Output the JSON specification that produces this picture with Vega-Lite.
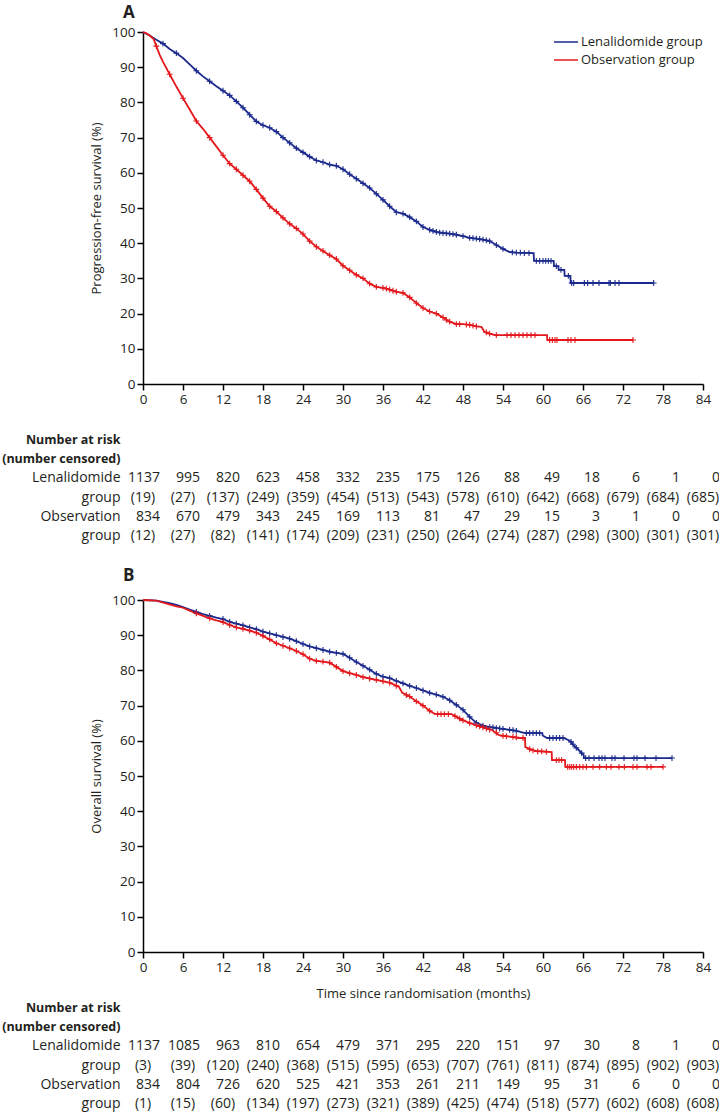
{
"$schema": "https://vega.github.io/schema/vega-lite/v6.json",
"background": "white",
"padding": {"left": 1, "top": 4, "right": 5, "bottom": 0},
"config": {
 "font": "Open Sans",
 "view": {"stroke": null},
 "axis": {"grid": false, "domainColor": "#000000", "domainWidth": 1.5, "tickColor": "#000000", "tickWidth": 1.5, "tickSize": 6, "labelColor": "#231f20", "labelFont": "Open Sans", "labelFontSize": 13.5, "titleFont": "Open Sans", "titleFontSize": 13, "titleFontWeight": "normal", "titleColor": "#231f20", "labelPadding": 2, "labelFlush": false},
 "text": {"font": "Open Sans", "fontSize": 14, "color": "#231f20"}
},
"datasets": {
 "curves": [
  {"panel":"A","group":"Lenalidomide group","month":0,"surv":100},{"panel":"A","group":"Lenalidomide group","month":1,"surv":99},{"panel":"A","group":"Lenalidomide group","month":2,"surv":97.8},{"panel":"A","group":"Lenalidomide group","month":3,"surv":96.7},{"panel":"A","group":"Lenalidomide group","month":4,"surv":95.2},{"panel":"A","group":"Lenalidomide group","month":5,"surv":94},{"panel":"A","group":"Lenalidomide group","month":6,"surv":92.6},{"panel":"A","group":"Lenalidomide group","month":7,"surv":90.8},{"panel":"A","group":"Lenalidomide group","month":8,"surv":89},{"panel":"A","group":"Lenalidomide group","month":9,"surv":87.4},{"panel":"A","group":"Lenalidomide group","month":10,"surv":86},{"panel":"A","group":"Lenalidomide group","month":11,"surv":84.6},{"panel":"A","group":"Lenalidomide group","month":12,"surv":83.3},{"panel":"A","group":"Lenalidomide group","month":13,"surv":82},{"panel":"A","group":"Lenalidomide group","month":14,"surv":80.3},{"panel":"A","group":"Lenalidomide group","month":15,"surv":78.5},{"panel":"A","group":"Lenalidomide group","month":16,"surv":76.5},{"panel":"A","group":"Lenalidomide group","month":17,"surv":74.6},{"panel":"A","group":"Lenalidomide group","month":18,"surv":73.5},{"panel":"A","group":"Lenalidomide group","month":19,"surv":72.8},{"panel":"A","group":"Lenalidomide group","month":20,"surv":71.7},{"panel":"A","group":"Lenalidomide group","month":21,"surv":70},{"panel":"A","group":"Lenalidomide group","month":22,"surv":68.5},{"panel":"A","group":"Lenalidomide group","month":23,"surv":67},{"panel":"A","group":"Lenalidomide group","month":24,"surv":65.8},{"panel":"A","group":"Lenalidomide group","month":25,"surv":64.6},{"panel":"A","group":"Lenalidomide group","month":26,"surv":63.5},{"panel":"A","group":"Lenalidomide group","month":27,"surv":63},{"panel":"A","group":"Lenalidomide group","month":28,"surv":62.3},{"panel":"A","group":"Lenalidomide group","month":29,"surv":62},{"panel":"A","group":"Lenalidomide group","month":30,"surv":61},{"panel":"A","group":"Lenalidomide group","month":31,"surv":59.6},{"panel":"A","group":"Lenalidomide group","month":32,"surv":58.3},{"panel":"A","group":"Lenalidomide group","month":33,"surv":57},{"panel":"A","group":"Lenalidomide group","month":34,"surv":55.7},{"panel":"A","group":"Lenalidomide group","month":35,"surv":54},{"panel":"A","group":"Lenalidomide group","month":36,"surv":52.3},{"panel":"A","group":"Lenalidomide group","month":37,"surv":50.5},{"panel":"A","group":"Lenalidomide group","month":38,"surv":48.8},{"panel":"A","group":"Lenalidomide group","month":39,"surv":48.4},{"panel":"A","group":"Lenalidomide group","month":40,"surv":47.4},{"panel":"A","group":"Lenalidomide group","month":41,"surv":46.2},{"panel":"A","group":"Lenalidomide group","month":42,"surv":44.6},{"panel":"A","group":"Lenalidomide group","month":43,"surv":43.8},{"panel":"A","group":"Lenalidomide group","month":44,"surv":43.2},{"panel":"A","group":"Lenalidomide group","month":45,"surv":42.9},{"panel":"A","group":"Lenalidomide group","month":46,"surv":42.7},{"panel":"A","group":"Lenalidomide group","month":47,"surv":42.4},{"panel":"A","group":"Lenalidomide group","month":48,"surv":42},{"panel":"A","group":"Lenalidomide group","month":49,"surv":41.5},{"panel":"A","group":"Lenalidomide group","month":50,"surv":41.3},{"panel":"A","group":"Lenalidomide group","month":51,"surv":41},{"panel":"A","group":"Lenalidomide group","month":52,"surv":40.6},{"panel":"A","group":"Lenalidomide group","month":53,"surv":39.5},{"panel":"A","group":"Lenalidomide group","month":54,"surv":38.4},{"panel":"A","group":"Lenalidomide group","month":55,"surv":37.5},{"panel":"A","group":"Lenalidomide group","month":56,"surv":37.3},{"panel":"A","group":"Lenalidomide group","month":58.6,"surv":37.2},{"panel":"A","group":"Lenalidomide group","month":58.65,"surv":35},{"panel":"A","group":"Lenalidomide group","month":61.6,"surv":35},{"panel":"A","group":"Lenalidomide group","month":61.65,"surv":33.5},{"panel":"A","group":"Lenalidomide group","month":62.3,"surv":33.5},{"panel":"A","group":"Lenalidomide group","month":62.35,"surv":32.4},{"panel":"A","group":"Lenalidomide group","month":63.2,"surv":32.4},{"panel":"A","group":"Lenalidomide group","month":63.25,"surv":30.7},{"panel":"A","group":"Lenalidomide group","month":64.1,"surv":30.7},{"panel":"A","group":"Lenalidomide group","month":64.15,"surv":28.7},{"panel":"A","group":"Lenalidomide group","month":76.6,"surv":28.7},
  {"panel":"A","group":"Observation group","month":0,"surv":100},{"panel":"A","group":"Observation group","month":0.5,"surv":99.6},{"panel":"A","group":"Observation group","month":1,"surv":99},{"panel":"A","group":"Observation group","month":1.6,"surv":98},{"panel":"A","group":"Observation group","month":2,"surv":96},{"panel":"A","group":"Observation group","month":2.5,"surv":93.5},{"panel":"A","group":"Observation group","month":3,"surv":91.5},{"panel":"A","group":"Observation group","month":4,"surv":88},{"panel":"A","group":"Observation group","month":5,"surv":84.5},{"panel":"A","group":"Observation group","month":6,"surv":81.2},{"panel":"A","group":"Observation group","month":7,"surv":78},{"panel":"A","group":"Observation group","month":8,"surv":74.7},{"panel":"A","group":"Observation group","month":9,"surv":72.5},{"panel":"A","group":"Observation group","month":10,"surv":70},{"panel":"A","group":"Observation group","month":11,"surv":67.5},{"panel":"A","group":"Observation group","month":12,"surv":65},{"panel":"A","group":"Observation group","month":13,"surv":62.6},{"panel":"A","group":"Observation group","month":14,"surv":61},{"panel":"A","group":"Observation group","month":15,"surv":59.3},{"panel":"A","group":"Observation group","month":16,"surv":57.6},{"panel":"A","group":"Observation group","month":17,"surv":55.3},{"panel":"A","group":"Observation group","month":18,"surv":52.8},{"panel":"A","group":"Observation group","month":19,"surv":50.5},{"panel":"A","group":"Observation group","month":20,"surv":49},{"panel":"A","group":"Observation group","month":21,"surv":47.2},{"panel":"A","group":"Observation group","month":22,"surv":45.5},{"panel":"A","group":"Observation group","month":23,"surv":44.2},{"panel":"A","group":"Observation group","month":24,"surv":42.6},{"panel":"A","group":"Observation group","month":25,"surv":40.6},{"panel":"A","group":"Observation group","month":26,"surv":39},{"panel":"A","group":"Observation group","month":27,"surv":37.8},{"panel":"A","group":"Observation group","month":28,"surv":36.6},{"panel":"A","group":"Observation group","month":29,"surv":35.5},{"panel":"A","group":"Observation group","month":30,"surv":33.6},{"panel":"A","group":"Observation group","month":31,"surv":32.3},{"panel":"A","group":"Observation group","month":32,"surv":31},{"panel":"A","group":"Observation group","month":33,"surv":30},{"panel":"A","group":"Observation group","month":34,"surv":28.5},{"panel":"A","group":"Observation group","month":35,"surv":27.6},{"panel":"A","group":"Observation group","month":36,"surv":27.3},{"panel":"A","group":"Observation group","month":37,"surv":26.8},{"panel":"A","group":"Observation group","month":38,"surv":26.2},{"panel":"A","group":"Observation group","month":39,"surv":25.9},{"panel":"A","group":"Observation group","month":40,"surv":24.6},{"panel":"A","group":"Observation group","month":41,"surv":23},{"panel":"A","group":"Observation group","month":42,"surv":21.6},{"panel":"A","group":"Observation group","month":43,"surv":20.6},{"panel":"A","group":"Observation group","month":44,"surv":20},{"panel":"A","group":"Observation group","month":45,"surv":18.9},{"panel":"A","group":"Observation group","month":46,"surv":17.7},{"panel":"A","group":"Observation group","month":47,"surv":17},{"panel":"A","group":"Observation group","month":48,"surv":17},{"panel":"A","group":"Observation group","month":49,"surv":16.8},{"panel":"A","group":"Observation group","month":50,"surv":16.4},{"panel":"A","group":"Observation group","month":50.8,"surv":16.2},{"panel":"A","group":"Observation group","month":51.2,"surv":14.8},{"panel":"A","group":"Observation group","month":52,"surv":14.3},{"panel":"A","group":"Observation group","month":52.8,"surv":13.9},{"panel":"A","group":"Observation group","month":60.6,"surv":13.9},{"panel":"A","group":"Observation group","month":60.65,"surv":12.5},{"panel":"A","group":"Observation group","month":73.5,"surv":12.5},
  {"panel":"B","group":"Lenalidomide group","month":0,"surv":100},{"panel":"B","group":"Lenalidomide group","month":2,"surv":99.8},{"panel":"B","group":"Lenalidomide group","month":4,"surv":99.1},{"panel":"B","group":"Lenalidomide group","month":5,"surv":98.6},{"panel":"B","group":"Lenalidomide group","month":6,"surv":98},{"panel":"B","group":"Lenalidomide group","month":7,"surv":97.3},{"panel":"B","group":"Lenalidomide group","month":8,"surv":96.6},{"panel":"B","group":"Lenalidomide group","month":9,"surv":96},{"panel":"B","group":"Lenalidomide group","month":10,"surv":95.5},{"panel":"B","group":"Lenalidomide group","month":11,"surv":95},{"panel":"B","group":"Lenalidomide group","month":12,"surv":94.6},{"panel":"B","group":"Lenalidomide group","month":13,"surv":93.8},{"panel":"B","group":"Lenalidomide group","month":14,"surv":93.3},{"panel":"B","group":"Lenalidomide group","month":15,"surv":92.8},{"panel":"B","group":"Lenalidomide group","month":16,"surv":92.2},{"panel":"B","group":"Lenalidomide group","month":17,"surv":91.7},{"panel":"B","group":"Lenalidomide group","month":18,"surv":91},{"panel":"B","group":"Lenalidomide group","month":19,"surv":90.5},{"panel":"B","group":"Lenalidomide group","month":20,"surv":90},{"panel":"B","group":"Lenalidomide group","month":21,"surv":89.5},{"panel":"B","group":"Lenalidomide group","month":22,"surv":89},{"panel":"B","group":"Lenalidomide group","month":23,"surv":88.3},{"panel":"B","group":"Lenalidomide group","month":24,"surv":87.5},{"panel":"B","group":"Lenalidomide group","month":25,"surv":86.8},{"panel":"B","group":"Lenalidomide group","month":26,"surv":86.3},{"panel":"B","group":"Lenalidomide group","month":27,"surv":85.8},{"panel":"B","group":"Lenalidomide group","month":28,"surv":85.3},{"panel":"B","group":"Lenalidomide group","month":29,"surv":85},{"panel":"B","group":"Lenalidomide group","month":30,"surv":84.7},{"panel":"B","group":"Lenalidomide group","month":31,"surv":83.6},{"panel":"B","group":"Lenalidomide group","month":32,"surv":82.4},{"panel":"B","group":"Lenalidomide group","month":33,"surv":81.3},{"panel":"B","group":"Lenalidomide group","month":34,"surv":80.2},{"panel":"B","group":"Lenalidomide group","month":35,"surv":79},{"panel":"B","group":"Lenalidomide group","month":36,"surv":78.2},{"panel":"B","group":"Lenalidomide group","month":37,"surv":77.8},{"panel":"B","group":"Lenalidomide group","month":38,"surv":77},{"panel":"B","group":"Lenalidomide group","month":39,"surv":76.3},{"panel":"B","group":"Lenalidomide group","month":40,"surv":75.6},{"panel":"B","group":"Lenalidomide group","month":41,"surv":75},{"panel":"B","group":"Lenalidomide group","month":42,"surv":74.3},{"panel":"B","group":"Lenalidomide group","month":43,"surv":73.6},{"panel":"B","group":"Lenalidomide group","month":44,"surv":73.1},{"panel":"B","group":"Lenalidomide group","month":45,"surv":72.5},{"panel":"B","group":"Lenalidomide group","month":46,"surv":71.5},{"panel":"B","group":"Lenalidomide group","month":47,"surv":70.2},{"panel":"B","group":"Lenalidomide group","month":48,"surv":68.8},{"panel":"B","group":"Lenalidomide group","month":49,"surv":66.8},{"panel":"B","group":"Lenalidomide group","month":50,"surv":65.1},{"panel":"B","group":"Lenalidomide group","month":51,"surv":64.3},{"panel":"B","group":"Lenalidomide group","month":52,"surv":63.9},{"panel":"B","group":"Lenalidomide group","month":54,"surv":63.4},{"panel":"B","group":"Lenalidomide group","month":56,"surv":62.8},{"panel":"B","group":"Lenalidomide group","month":57.3,"surv":62.2},{"panel":"B","group":"Lenalidomide group","month":59.9,"surv":62.2},{"panel":"B","group":"Lenalidomide group","month":59.95,"surv":61.5},{"panel":"B","group":"Lenalidomide group","month":60.6,"surv":60.8},{"panel":"B","group":"Lenalidomide group","month":63.1,"surv":60.8},{"panel":"B","group":"Lenalidomide group","month":64,"surv":60},{"panel":"B","group":"Lenalidomide group","month":64.6,"surv":58.8},{"panel":"B","group":"Lenalidomide group","month":65.5,"surv":57.1},{"panel":"B","group":"Lenalidomide group","month":66.1,"surv":56},{"panel":"B","group":"Lenalidomide group","month":66.15,"surv":55.1},{"panel":"B","group":"Lenalidomide group","month":79.35,"surv":55.1},
  {"panel":"B","group":"Observation group","month":0,"surv":100},{"panel":"B","group":"Observation group","month":2,"surv":99.8},{"panel":"B","group":"Observation group","month":3.3,"surv":99.1},{"panel":"B","group":"Observation group","month":5,"surv":98.2},{"panel":"B","group":"Observation group","month":6,"surv":97.8},{"panel":"B","group":"Observation group","month":7,"surv":97},{"panel":"B","group":"Observation group","month":8,"surv":96.2},{"panel":"B","group":"Observation group","month":9,"surv":95.5},{"panel":"B","group":"Observation group","month":10,"surv":94.8},{"panel":"B","group":"Observation group","month":11,"surv":94.2},{"panel":"B","group":"Observation group","month":12,"surv":93.7},{"panel":"B","group":"Observation group","month":13,"surv":92.9},{"panel":"B","group":"Observation group","month":14,"surv":92.2},{"panel":"B","group":"Observation group","month":15,"surv":91.8},{"panel":"B","group":"Observation group","month":16,"surv":91.3},{"panel":"B","group":"Observation group","month":17,"surv":90.7},{"panel":"B","group":"Observation group","month":18,"surv":89.8},{"panel":"B","group":"Observation group","month":19,"surv":88.8},{"panel":"B","group":"Observation group","month":20,"surv":87.7},{"panel":"B","group":"Observation group","month":21,"surv":87},{"panel":"B","group":"Observation group","month":22,"surv":86.3},{"panel":"B","group":"Observation group","month":23,"surv":85.5},{"panel":"B","group":"Observation group","month":24,"surv":84.6},{"panel":"B","group":"Observation group","month":25,"surv":83.3},{"panel":"B","group":"Observation group","month":26,"surv":82.7},{"panel":"B","group":"Observation group","month":27,"surv":82.5},{"panel":"B","group":"Observation group","month":28,"surv":82.2},{"panel":"B","group":"Observation group","month":29,"surv":81},{"panel":"B","group":"Observation group","month":30,"surv":79.8},{"panel":"B","group":"Observation group","month":31,"surv":79.2},{"panel":"B","group":"Observation group","month":32,"surv":78.7},{"panel":"B","group":"Observation group","month":33,"surv":78.1},{"panel":"B","group":"Observation group","month":34,"surv":77.7},{"panel":"B","group":"Observation group","month":35,"surv":77.3},{"panel":"B","group":"Observation group","month":36,"surv":76.9},{"panel":"B","group":"Observation group","month":37,"surv":76.5},{"panel":"B","group":"Observation group","month":38.4,"surv":75.3},{"panel":"B","group":"Observation group","month":38.9,"surv":73.6},{"panel":"B","group":"Observation group","month":40,"surv":72.6},{"panel":"B","group":"Observation group","month":41,"surv":71.2},{"panel":"B","group":"Observation group","month":42,"surv":70},{"panel":"B","group":"Observation group","month":43,"surv":68.5},{"panel":"B","group":"Observation group","month":43.8,"surv":67.6},{"panel":"B","group":"Observation group","month":46.3,"surv":67.6},{"panel":"B","group":"Observation group","month":47,"surv":66.8},{"panel":"B","group":"Observation group","month":48.3,"surv":65.6},{"panel":"B","group":"Observation group","month":49.8,"surv":64.5},{"panel":"B","group":"Observation group","month":51,"surv":63.8},{"panel":"B","group":"Observation group","month":52.3,"surv":63.1},{"panel":"B","group":"Observation group","month":53.4,"surv":61.6},{"panel":"B","group":"Observation group","month":55,"surv":61.2},{"panel":"B","group":"Observation group","month":56.4,"surv":60.8},{"panel":"B","group":"Observation group","month":57.3,"surv":60.8},{"panel":"B","group":"Observation group","month":57.35,"surv":58.2},{"panel":"B","group":"Observation group","month":58.8,"surv":57.1},{"panel":"B","group":"Observation group","month":61.3,"surv":56.8},{"panel":"B","group":"Observation group","month":61.35,"surv":54.5},{"panel":"B","group":"Observation group","month":63.3,"surv":54.5},{"panel":"B","group":"Observation group","month":63.35,"surv":52.6},{"panel":"B","group":"Observation group","month":78,"surv":52.6}
 ],
 "censor": [
  {"panel":"A","group":"Lenalidomide group","month":3,"surv":96.7},{"panel":"A","group":"Lenalidomide group","month":5,"surv":94},{"panel":"A","group":"Lenalidomide group","month":8,"surv":89},{"panel":"A","group":"Lenalidomide group","month":10,"surv":86},{"panel":"A","group":"Lenalidomide group","month":12,"surv":83.3},{"panel":"A","group":"Lenalidomide group","month":13,"surv":82},{"panel":"A","group":"Lenalidomide group","month":14,"surv":80.3},{"panel":"A","group":"Lenalidomide group","month":15,"surv":78.5},{"panel":"A","group":"Lenalidomide group","month":16,"surv":76.5},{"panel":"A","group":"Lenalidomide group","month":17,"surv":74.6},{"panel":"A","group":"Lenalidomide group","month":18,"surv":73.5},{"panel":"A","group":"Lenalidomide group","month":19,"surv":72.8},{"panel":"A","group":"Lenalidomide group","month":20,"surv":71.7},{"panel":"A","group":"Lenalidomide group","month":21,"surv":70},{"panel":"A","group":"Lenalidomide group","month":22,"surv":68.5},{"panel":"A","group":"Lenalidomide group","month":23,"surv":67},{"panel":"A","group":"Lenalidomide group","month":24,"surv":65.8},{"panel":"A","group":"Lenalidomide group","month":25,"surv":64.6},{"panel":"A","group":"Lenalidomide group","month":26,"surv":63.5},{"panel":"A","group":"Lenalidomide group","month":27,"surv":63},{"panel":"A","group":"Lenalidomide group","month":28,"surv":62.3},{"panel":"A","group":"Lenalidomide group","month":29,"surv":62},{"panel":"A","group":"Lenalidomide group","month":30,"surv":61},{"panel":"A","group":"Lenalidomide group","month":31,"surv":59.6},{"panel":"A","group":"Lenalidomide group","month":32,"surv":58.3},{"panel":"A","group":"Lenalidomide group","month":33,"surv":57},{"panel":"A","group":"Lenalidomide group","month":34,"surv":55.7},{"panel":"A","group":"Lenalidomide group","month":35,"surv":54},{"panel":"A","group":"Lenalidomide group","month":36,"surv":52.3},{"panel":"A","group":"Lenalidomide group","month":37,"surv":50.5},{"panel":"A","group":"Lenalidomide group","month":38,"surv":48.8},{"panel":"A","group":"Lenalidomide group","month":39,"surv":48.4},{"panel":"A","group":"Lenalidomide group","month":40,"surv":47.4},{"panel":"A","group":"Lenalidomide group","month":41,"surv":46.2},{"panel":"A","group":"Lenalidomide group","month":42,"surv":44.6},{"panel":"A","group":"Lenalidomide group","month":43,"surv":43.8},{"panel":"A","group":"Lenalidomide group","month":43.5,"surv":43.5},{"panel":"A","group":"Lenalidomide group","month":44,"surv":43.2},{"panel":"A","group":"Lenalidomide group","month":44.5,"surv":43},{"panel":"A","group":"Lenalidomide group","month":45,"surv":42.9},{"panel":"A","group":"Lenalidomide group","month":45.5,"surv":42.8},{"panel":"A","group":"Lenalidomide group","month":46,"surv":42.7},{"panel":"A","group":"Lenalidomide group","month":46.5,"surv":42.6},{"panel":"A","group":"Lenalidomide group","month":47,"surv":42.4},{"panel":"A","group":"Lenalidomide group","month":48,"surv":42},{"panel":"A","group":"Lenalidomide group","month":49,"surv":41.5},{"panel":"A","group":"Lenalidomide group","month":49.5,"surv":41.4},{"panel":"A","group":"Lenalidomide group","month":50,"surv":41.3},{"panel":"A","group":"Lenalidomide group","month":50.5,"surv":41.2},{"panel":"A","group":"Lenalidomide group","month":51,"surv":41},{"panel":"A","group":"Lenalidomide group","month":51.5,"surv":40.8},{"panel":"A","group":"Lenalidomide group","month":52,"surv":40.6},{"panel":"A","group":"Lenalidomide group","month":53,"surv":39.5},{"panel":"A","group":"Lenalidomide group","month":54,"surv":38.4},{"panel":"A","group":"Lenalidomide group","month":55.4,"surv":37.4},{"panel":"A","group":"Lenalidomide group","month":56,"surv":37.3},{"panel":"A","group":"Lenalidomide group","month":56.6,"surv":37.3},{"panel":"A","group":"Lenalidomide group","month":57.2,"surv":37.2},{"panel":"A","group":"Lenalidomide group","month":57.9,"surv":37.2},{"panel":"A","group":"Lenalidomide group","month":59,"surv":35},{"panel":"A","group":"Lenalidomide group","month":59.5,"surv":35},{"panel":"A","group":"Lenalidomide group","month":60,"surv":35},{"panel":"A","group":"Lenalidomide group","month":60.4,"surv":35},{"panel":"A","group":"Lenalidomide group","month":60.8,"surv":35},{"panel":"A","group":"Lenalidomide group","month":61.2,"surv":35},{"panel":"A","group":"Lenalidomide group","month":62,"surv":33.5},{"panel":"A","group":"Lenalidomide group","month":62.7,"surv":32.4},{"panel":"A","group":"Lenalidomide group","month":63.8,"surv":30.7},{"panel":"A","group":"Lenalidomide group","month":64.3,"surv":28.7},{"panel":"A","group":"Lenalidomide group","month":64.6,"surv":28.7},{"panel":"A","group":"Lenalidomide group","month":66.2,"surv":28.7},{"panel":"A","group":"Lenalidomide group","month":66.7,"surv":28.7},{"panel":"A","group":"Lenalidomide group","month":67.5,"surv":28.7},{"panel":"A","group":"Lenalidomide group","month":68.4,"surv":28.7},{"panel":"A","group":"Lenalidomide group","month":69.9,"surv":28.7},{"panel":"A","group":"Lenalidomide group","month":70.1,"surv":28.7},{"panel":"A","group":"Lenalidomide group","month":70.8,"surv":28.7},{"panel":"A","group":"Lenalidomide group","month":71.4,"surv":28.7},{"panel":"A","group":"Lenalidomide group","month":76.6,"surv":28.7},
  {"panel":"A","group":"Observation group","month":2,"surv":96},{"panel":"A","group":"Observation group","month":4,"surv":88},{"panel":"A","group":"Observation group","month":6,"surv":81.2},{"panel":"A","group":"Observation group","month":8,"surv":74.7},{"panel":"A","group":"Observation group","month":10,"surv":70},{"panel":"A","group":"Observation group","month":12,"surv":65},{"panel":"A","group":"Observation group","month":13,"surv":62.6},{"panel":"A","group":"Observation group","month":14,"surv":61},{"panel":"A","group":"Observation group","month":15,"surv":59.3},{"panel":"A","group":"Observation group","month":16,"surv":57.6},{"panel":"A","group":"Observation group","month":17,"surv":55.3},{"panel":"A","group":"Observation group","month":18,"surv":52.8},{"panel":"A","group":"Observation group","month":19,"surv":50.5},{"panel":"A","group":"Observation group","month":20,"surv":49},{"panel":"A","group":"Observation group","month":21,"surv":47.2},{"panel":"A","group":"Observation group","month":22,"surv":45.5},{"panel":"A","group":"Observation group","month":23,"surv":44.2},{"panel":"A","group":"Observation group","month":24,"surv":42.6},{"panel":"A","group":"Observation group","month":25,"surv":40.6},{"panel":"A","group":"Observation group","month":26,"surv":39},{"panel":"A","group":"Observation group","month":27,"surv":37.8},{"panel":"A","group":"Observation group","month":28,"surv":36.6},{"panel":"A","group":"Observation group","month":29,"surv":35.5},{"panel":"A","group":"Observation group","month":30,"surv":33.6},{"panel":"A","group":"Observation group","month":31,"surv":32.3},{"panel":"A","group":"Observation group","month":32,"surv":31},{"panel":"A","group":"Observation group","month":33,"surv":30},{"panel":"A","group":"Observation group","month":34,"surv":28.5},{"panel":"A","group":"Observation group","month":35,"surv":27.6},{"panel":"A","group":"Observation group","month":36,"surv":27.3},{"panel":"A","group":"Observation group","month":36.5,"surv":27.1},{"panel":"A","group":"Observation group","month":37,"surv":26.8},{"panel":"A","group":"Observation group","month":37.5,"surv":26.5},{"panel":"A","group":"Observation group","month":38,"surv":26.2},{"panel":"A","group":"Observation group","month":39,"surv":25.9},{"panel":"A","group":"Observation group","month":40,"surv":24.6},{"panel":"A","group":"Observation group","month":41,"surv":23},{"panel":"A","group":"Observation group","month":42,"surv":21.6},{"panel":"A","group":"Observation group","month":43,"surv":20.6},{"panel":"A","group":"Observation group","month":44,"surv":20},{"panel":"A","group":"Observation group","month":45,"surv":18.9},{"panel":"A","group":"Observation group","month":45.5,"surv":18.2},{"panel":"A","group":"Observation group","month":46,"surv":17.7},{"panel":"A","group":"Observation group","month":47,"surv":17},{"panel":"A","group":"Observation group","month":47.5,"surv":17},{"panel":"A","group":"Observation group","month":48.5,"surv":16.9},{"panel":"A","group":"Observation group","month":49,"surv":16.8},{"panel":"A","group":"Observation group","month":49.5,"surv":16.6},{"panel":"A","group":"Observation group","month":50,"surv":16.4},{"panel":"A","group":"Observation group","month":51.5,"surv":14.7},{"panel":"A","group":"Observation group","month":52,"surv":14.3},{"panel":"A","group":"Observation group","month":53,"surv":13.9},{"panel":"A","group":"Observation group","month":54.6,"surv":13.9},{"panel":"A","group":"Observation group","month":55.2,"surv":13.9},{"panel":"A","group":"Observation group","month":55.8,"surv":13.9},{"panel":"A","group":"Observation group","month":56.4,"surv":13.9},{"panel":"A","group":"Observation group","month":57,"surv":13.9},{"panel":"A","group":"Observation group","month":57.6,"surv":13.9},{"panel":"A","group":"Observation group","month":58.2,"surv":13.9},{"panel":"A","group":"Observation group","month":58.8,"surv":13.9},{"panel":"A","group":"Observation group","month":61,"surv":12.5},{"panel":"A","group":"Observation group","month":61.4,"surv":12.5},{"panel":"A","group":"Observation group","month":61.8,"surv":12.5},{"panel":"A","group":"Observation group","month":62.1,"surv":12.5},{"panel":"A","group":"Observation group","month":63.75,"surv":12.5},{"panel":"A","group":"Observation group","month":64.2,"surv":12.5},{"panel":"A","group":"Observation group","month":64.8,"surv":12.5},{"panel":"A","group":"Observation group","month":73.5,"surv":12.5},
  {"panel":"B","group":"Lenalidomide group","month":8,"surv":96.6},{"panel":"B","group":"Lenalidomide group","month":10,"surv":95.5},{"panel":"B","group":"Lenalidomide group","month":12,"surv":94.6},{"panel":"B","group":"Lenalidomide group","month":13,"surv":93.8},{"panel":"B","group":"Lenalidomide group","month":14,"surv":93.3},{"panel":"B","group":"Lenalidomide group","month":15,"surv":92.8},{"panel":"B","group":"Lenalidomide group","month":16,"surv":92.2},{"panel":"B","group":"Lenalidomide group","month":17,"surv":91.7},{"panel":"B","group":"Lenalidomide group","month":18,"surv":91},{"panel":"B","group":"Lenalidomide group","month":19,"surv":90.5},{"panel":"B","group":"Lenalidomide group","month":20,"surv":90},{"panel":"B","group":"Lenalidomide group","month":21,"surv":89.5},{"panel":"B","group":"Lenalidomide group","month":22,"surv":89},{"panel":"B","group":"Lenalidomide group","month":23,"surv":88.3},{"panel":"B","group":"Lenalidomide group","month":24,"surv":87.5},{"panel":"B","group":"Lenalidomide group","month":25,"surv":86.8},{"panel":"B","group":"Lenalidomide group","month":26,"surv":86.3},{"panel":"B","group":"Lenalidomide group","month":27,"surv":85.8},{"panel":"B","group":"Lenalidomide group","month":28,"surv":85.3},{"panel":"B","group":"Lenalidomide group","month":29,"surv":85},{"panel":"B","group":"Lenalidomide group","month":30,"surv":84.7},{"panel":"B","group":"Lenalidomide group","month":31,"surv":83.6},{"panel":"B","group":"Lenalidomide group","month":32,"surv":82.4},{"panel":"B","group":"Lenalidomide group","month":33,"surv":81.3},{"panel":"B","group":"Lenalidomide group","month":34,"surv":80.2},{"panel":"B","group":"Lenalidomide group","month":35,"surv":79},{"panel":"B","group":"Lenalidomide group","month":36,"surv":78.2},{"panel":"B","group":"Lenalidomide group","month":37,"surv":77.8},{"panel":"B","group":"Lenalidomide group","month":38,"surv":77},{"panel":"B","group":"Lenalidomide group","month":39,"surv":76.3},{"panel":"B","group":"Lenalidomide group","month":40,"surv":75.6},{"panel":"B","group":"Lenalidomide group","month":41,"surv":75},{"panel":"B","group":"Lenalidomide group","month":42,"surv":74.3},{"panel":"B","group":"Lenalidomide group","month":43,"surv":73.6},{"panel":"B","group":"Lenalidomide group","month":44,"surv":73.1},{"panel":"B","group":"Lenalidomide group","month":45,"surv":72.5},{"panel":"B","group":"Lenalidomide group","month":46,"surv":71.5},{"panel":"B","group":"Lenalidomide group","month":47,"surv":70.2},{"panel":"B","group":"Lenalidomide group","month":48,"surv":68.8},{"panel":"B","group":"Lenalidomide group","month":49,"surv":66.8},{"panel":"B","group":"Lenalidomide group","month":50,"surv":65.1},{"panel":"B","group":"Lenalidomide group","month":51,"surv":64.3},{"panel":"B","group":"Lenalidomide group","month":52,"surv":63.9},{"panel":"B","group":"Lenalidomide group","month":52.5,"surv":63.8},{"panel":"B","group":"Lenalidomide group","month":53,"surv":63.6},{"panel":"B","group":"Lenalidomide group","month":53.5,"surv":63.5},{"panel":"B","group":"Lenalidomide group","month":54,"surv":63.4},{"panel":"B","group":"Lenalidomide group","month":55,"surv":63.1},{"panel":"B","group":"Lenalidomide group","month":55.5,"surv":63},{"panel":"B","group":"Lenalidomide group","month":56,"surv":62.8},{"panel":"B","group":"Lenalidomide group","month":57.5,"surv":62.2},{"panel":"B","group":"Lenalidomide group","month":58,"surv":62.2},{"panel":"B","group":"Lenalidomide group","month":58.5,"surv":62.2},{"panel":"B","group":"Lenalidomide group","month":59,"surv":62.2},{"panel":"B","group":"Lenalidomide group","month":59.5,"surv":62.2},{"panel":"B","group":"Lenalidomide group","month":61,"surv":60.8},{"panel":"B","group":"Lenalidomide group","month":61.5,"surv":60.8},{"panel":"B","group":"Lenalidomide group","month":62,"surv":60.8},{"panel":"B","group":"Lenalidomide group","month":62.5,"surv":60.8},{"panel":"B","group":"Lenalidomide group","month":63,"surv":60.8},{"panel":"B","group":"Lenalidomide group","month":64.2,"surv":59.7},{"panel":"B","group":"Lenalidomide group","month":64.5,"surv":59},{"panel":"B","group":"Lenalidomide group","month":65,"surv":58},{"panel":"B","group":"Lenalidomide group","month":65.8,"surv":56.5},{"panel":"B","group":"Lenalidomide group","month":66.4,"surv":55.1},{"panel":"B","group":"Lenalidomide group","month":66.9,"surv":55.1},{"panel":"B","group":"Lenalidomide group","month":67.65,"surv":55.1},{"panel":"B","group":"Lenalidomide group","month":68.4,"surv":55.1},{"panel":"B","group":"Lenalidomide group","month":68.85,"surv":55.1},{"panel":"B","group":"Lenalidomide group","month":69.3,"surv":55.1},{"panel":"B","group":"Lenalidomide group","month":70.35,"surv":55.1},{"panel":"B","group":"Lenalidomide group","month":70.8,"surv":55.1},{"panel":"B","group":"Lenalidomide group","month":72.15,"surv":55.1},{"panel":"B","group":"Lenalidomide group","month":73.65,"surv":55.1},{"panel":"B","group":"Lenalidomide group","month":74.1,"surv":55.1},{"panel":"B","group":"Lenalidomide group","month":75.3,"surv":55.1},{"panel":"B","group":"Lenalidomide group","month":76.95,"surv":55.1},{"panel":"B","group":"Lenalidomide group","month":79.35,"surv":55.1},
  {"panel":"B","group":"Observation group","month":8,"surv":96.2},{"panel":"B","group":"Observation group","month":10,"surv":94.8},{"panel":"B","group":"Observation group","month":12,"surv":93.7},{"panel":"B","group":"Observation group","month":13,"surv":92.9},{"panel":"B","group":"Observation group","month":14,"surv":92.2},{"panel":"B","group":"Observation group","month":15,"surv":91.8},{"panel":"B","group":"Observation group","month":16,"surv":91.3},{"panel":"B","group":"Observation group","month":17,"surv":90.7},{"panel":"B","group":"Observation group","month":18,"surv":89.8},{"panel":"B","group":"Observation group","month":19,"surv":88.8},{"panel":"B","group":"Observation group","month":20,"surv":87.7},{"panel":"B","group":"Observation group","month":21,"surv":87},{"panel":"B","group":"Observation group","month":22,"surv":86.3},{"panel":"B","group":"Observation group","month":23,"surv":85.5},{"panel":"B","group":"Observation group","month":24,"surv":84.6},{"panel":"B","group":"Observation group","month":25,"surv":83.3},{"panel":"B","group":"Observation group","month":26,"surv":82.7},{"panel":"B","group":"Observation group","month":27,"surv":82.5},{"panel":"B","group":"Observation group","month":28,"surv":82.2},{"panel":"B","group":"Observation group","month":29,"surv":81},{"panel":"B","group":"Observation group","month":30,"surv":79.8},{"panel":"B","group":"Observation group","month":31,"surv":79.2},{"panel":"B","group":"Observation group","month":32,"surv":78.7},{"panel":"B","group":"Observation group","month":33,"surv":78.1},{"panel":"B","group":"Observation group","month":34,"surv":77.7},{"panel":"B","group":"Observation group","month":35,"surv":77.3},{"panel":"B","group":"Observation group","month":36,"surv":76.9},{"panel":"B","group":"Observation group","month":37,"surv":76.5},{"panel":"B","group":"Observation group","month":38,"surv":75.6},{"panel":"B","group":"Observation group","month":39.5,"surv":73},{"panel":"B","group":"Observation group","month":40,"surv":72.6},{"panel":"B","group":"Observation group","month":41,"surv":71.2},{"panel":"B","group":"Observation group","month":42,"surv":70},{"panel":"B","group":"Observation group","month":43,"surv":68.5},{"panel":"B","group":"Observation group","month":44.2,"surv":67.6},{"panel":"B","group":"Observation group","month":44.7,"surv":67.6},{"panel":"B","group":"Observation group","month":45.2,"surv":67.6},{"panel":"B","group":"Observation group","month":45.8,"surv":67.6},{"panel":"B","group":"Observation group","month":46.8,"surv":67},{"panel":"B","group":"Observation group","month":47.5,"surv":66.3},{"panel":"B","group":"Observation group","month":48,"surv":65.8},{"panel":"B","group":"Observation group","month":49,"surv":65},{"panel":"B","group":"Observation group","month":50,"surv":64.4},{"panel":"B","group":"Observation group","month":50.5,"surv":64.1},{"panel":"B","group":"Observation group","month":51,"surv":63.8},{"panel":"B","group":"Observation group","month":51.5,"surv":63.5},{"panel":"B","group":"Observation group","month":52,"surv":63.2},{"panel":"B","group":"Observation group","month":53,"surv":62.3},{"panel":"B","group":"Observation group","month":54,"surv":61.4},{"panel":"B","group":"Observation group","month":54.5,"surv":61.3},{"panel":"B","group":"Observation group","month":55.5,"surv":61.1},{"panel":"B","group":"Observation group","month":56,"surv":61},{"panel":"B","group":"Observation group","month":57,"surv":60.8},{"panel":"B","group":"Observation group","month":58,"surv":57.6},{"panel":"B","group":"Observation group","month":58.5,"surv":57.3},{"panel":"B","group":"Observation group","month":59.2,"surv":57},{"panel":"B","group":"Observation group","month":59.8,"surv":57},{"panel":"B","group":"Observation group","month":60.5,"surv":56.9},{"panel":"B","group":"Observation group","month":62,"surv":54.5},{"panel":"B","group":"Observation group","month":62.4,"surv":54.5},{"panel":"B","group":"Observation group","month":62.8,"surv":54.5},{"panel":"B","group":"Observation group","month":63.7,"surv":52.6},{"panel":"B","group":"Observation group","month":64,"surv":52.6},{"panel":"B","group":"Observation group","month":64.3,"surv":52.6},{"panel":"B","group":"Observation group","month":64.6,"surv":52.6},{"panel":"B","group":"Observation group","month":65,"surv":52.6},{"panel":"B","group":"Observation group","month":65.5,"surv":52.6},{"panel":"B","group":"Observation group","month":66,"surv":52.6},{"panel":"B","group":"Observation group","month":66.5,"surv":52.6},{"panel":"B","group":"Observation group","month":67.5,"surv":52.6},{"panel":"B","group":"Observation group","month":68.5,"surv":52.6},{"panel":"B","group":"Observation group","month":69.5,"surv":52.6},{"panel":"B","group":"Observation group","month":70.2,"surv":52.6},{"panel":"B","group":"Observation group","month":71.4,"surv":52.6},{"panel":"B","group":"Observation group","month":72.2,"surv":52.6},{"panel":"B","group":"Observation group","month":73.5,"surv":52.6},{"panel":"B","group":"Observation group","month":74.1,"surv":52.6},{"panel":"B","group":"Observation group","month":75.6,"surv":52.6},{"panel":"B","group":"Observation group","month":76.2,"surv":52.6},{"panel":"B","group":"Observation group","month":78,"surv":52.6}
 ],
 "risk": [
  {"panel":"A","row":"L1","month":0,"label":"1137"},{"panel":"A","row":"L1","month":6,"label":"995"},{"panel":"A","row":"L1","month":12,"label":"820"},{"panel":"A","row":"L1","month":18,"label":"623"},{"panel":"A","row":"L1","month":24,"label":"458"},{"panel":"A","row":"L1","month":30,"label":"332"},{"panel":"A","row":"L1","month":36,"label":"235"},{"panel":"A","row":"L1","month":42,"label":"175"},{"panel":"A","row":"L1","month":48,"label":"126"},{"panel":"A","row":"L1","month":54,"label":"88"},{"panel":"A","row":"L1","month":60,"label":"49"},{"panel":"A","row":"L1","month":66,"label":"18"},{"panel":"A","row":"L1","month":72,"label":"6"},{"panel":"A","row":"L1","month":78,"label":"1"},{"panel":"A","row":"L1","month":84,"label":"0"},
  {"panel":"A","row":"L2","month":0,"label":"(19)"},{"panel":"A","row":"L2","month":6,"label":"(27)"},{"panel":"A","row":"L2","month":12,"label":"(137)"},{"panel":"A","row":"L2","month":18,"label":"(249)"},{"panel":"A","row":"L2","month":24,"label":"(359)"},{"panel":"A","row":"L2","month":30,"label":"(454)"},{"panel":"A","row":"L2","month":36,"label":"(513)"},{"panel":"A","row":"L2","month":42,"label":"(543)"},{"panel":"A","row":"L2","month":48,"label":"(578)"},{"panel":"A","row":"L2","month":54,"label":"(610)"},{"panel":"A","row":"L2","month":60,"label":"(642)"},{"panel":"A","row":"L2","month":66,"label":"(668)"},{"panel":"A","row":"L2","month":72,"label":"(679)"},{"panel":"A","row":"L2","month":78,"label":"(684)"},{"panel":"A","row":"L2","month":84,"label":"(685)"},
  {"panel":"A","row":"O1","month":0,"label":"834"},{"panel":"A","row":"O1","month":6,"label":"670"},{"panel":"A","row":"O1","month":12,"label":"479"},{"panel":"A","row":"O1","month":18,"label":"343"},{"panel":"A","row":"O1","month":24,"label":"245"},{"panel":"A","row":"O1","month":30,"label":"169"},{"panel":"A","row":"O1","month":36,"label":"113"},{"panel":"A","row":"O1","month":42,"label":"81"},{"panel":"A","row":"O1","month":48,"label":"47"},{"panel":"A","row":"O1","month":54,"label":"29"},{"panel":"A","row":"O1","month":60,"label":"15"},{"panel":"A","row":"O1","month":66,"label":"3"},{"panel":"A","row":"O1","month":72,"label":"1"},{"panel":"A","row":"O1","month":78,"label":"0"},{"panel":"A","row":"O1","month":84,"label":"0"},
  {"panel":"A","row":"O2","month":0,"label":"(12)"},{"panel":"A","row":"O2","month":6,"label":"(27)"},{"panel":"A","row":"O2","month":12,"label":"(82)"},{"panel":"A","row":"O2","month":18,"label":"(141)"},{"panel":"A","row":"O2","month":24,"label":"(174)"},{"panel":"A","row":"O2","month":30,"label":"(209)"},{"panel":"A","row":"O2","month":36,"label":"(231)"},{"panel":"A","row":"O2","month":42,"label":"(250)"},{"panel":"A","row":"O2","month":48,"label":"(264)"},{"panel":"A","row":"O2","month":54,"label":"(274)"},{"panel":"A","row":"O2","month":60,"label":"(287)"},{"panel":"A","row":"O2","month":66,"label":"(298)"},{"panel":"A","row":"O2","month":72,"label":"(300)"},{"panel":"A","row":"O2","month":78,"label":"(301)"},{"panel":"A","row":"O2","month":84,"label":"(301)"},
  {"panel":"B","row":"L1","month":0,"label":"1137"},{"panel":"B","row":"L1","month":6,"label":"1085"},{"panel":"B","row":"L1","month":12,"label":"963"},{"panel":"B","row":"L1","month":18,"label":"810"},{"panel":"B","row":"L1","month":24,"label":"654"},{"panel":"B","row":"L1","month":30,"label":"479"},{"panel":"B","row":"L1","month":36,"label":"371"},{"panel":"B","row":"L1","month":42,"label":"295"},{"panel":"B","row":"L1","month":48,"label":"220"},{"panel":"B","row":"L1","month":54,"label":"151"},{"panel":"B","row":"L1","month":60,"label":"97"},{"panel":"B","row":"L1","month":66,"label":"30"},{"panel":"B","row":"L1","month":72,"label":"8"},{"panel":"B","row":"L1","month":78,"label":"1"},{"panel":"B","row":"L1","month":84,"label":"0"},
  {"panel":"B","row":"L2","month":0,"label":"(3)"},{"panel":"B","row":"L2","month":6,"label":"(39)"},{"panel":"B","row":"L2","month":12,"label":"(120)"},{"panel":"B","row":"L2","month":18,"label":"(240)"},{"panel":"B","row":"L2","month":24,"label":"(368)"},{"panel":"B","row":"L2","month":30,"label":"(515)"},{"panel":"B","row":"L2","month":36,"label":"(595)"},{"panel":"B","row":"L2","month":42,"label":"(653)"},{"panel":"B","row":"L2","month":48,"label":"(707)"},{"panel":"B","row":"L2","month":54,"label":"(761)"},{"panel":"B","row":"L2","month":60,"label":"(811)"},{"panel":"B","row":"L2","month":66,"label":"(874)"},{"panel":"B","row":"L2","month":72,"label":"(895)"},{"panel":"B","row":"L2","month":78,"label":"(902)"},{"panel":"B","row":"L2","month":84,"label":"(903)"},
  {"panel":"B","row":"O1","month":0,"label":"834"},{"panel":"B","row":"O1","month":6,"label":"804"},{"panel":"B","row":"O1","month":12,"label":"726"},{"panel":"B","row":"O1","month":18,"label":"620"},{"panel":"B","row":"O1","month":24,"label":"525"},{"panel":"B","row":"O1","month":30,"label":"421"},{"panel":"B","row":"O1","month":36,"label":"353"},{"panel":"B","row":"O1","month":42,"label":"261"},{"panel":"B","row":"O1","month":48,"label":"211"},{"panel":"B","row":"O1","month":54,"label":"149"},{"panel":"B","row":"O1","month":60,"label":"95"},{"panel":"B","row":"O1","month":66,"label":"31"},{"panel":"B","row":"O1","month":72,"label":"6"},{"panel":"B","row":"O1","month":78,"label":"0"},{"panel":"B","row":"O1","month":84,"label":"0"},
  {"panel":"B","row":"O2","month":0,"label":"(1)"},{"panel":"B","row":"O2","month":6,"label":"(15)"},{"panel":"B","row":"O2","month":12,"label":"(60)"},{"panel":"B","row":"O2","month":18,"label":"(134)"},{"panel":"B","row":"O2","month":24,"label":"(197)"},{"panel":"B","row":"O2","month":30,"label":"(273)"},{"panel":"B","row":"O2","month":36,"label":"(321)"},{"panel":"B","row":"O2","month":42,"label":"(389)"},{"panel":"B","row":"O2","month":48,"label":"(425)"},{"panel":"B","row":"O2","month":54,"label":"(474)"},{"panel":"B","row":"O2","month":60,"label":"(518)"},{"panel":"B","row":"O2","month":66,"label":"(577)"},{"panel":"B","row":"O2","month":72,"label":"(602)"},{"panel":"B","row":"O2","month":78,"label":"(608)"},{"panel":"B","row":"O2","month":84,"label":"(608)"}
 ]
},
"bounds": "flush",
"spacing": 40,
"resolve": {"scale": {"color": "independent"}, "legend": {"color": "independent"}},
"vconcat": [
 {
  "width": 560, "height": 352,
  "title": {"text": "A", "anchor": "start", "frame": "group", "dx": -20, "fontSize": 17, "fontWeight": "bold", "font": "Open Sans", "color": "#231f20", "offset": 3},
  "encoding": {
   "x": {"field": "month", "type": "quantitative", "scale": {"domain": [0, 84], "nice": false}, "axis": {"values": [0,6,12,18,24,30,36,42,48,54,60,66,72,78,84], "title": null}},
   "y": {"field": "surv", "type": "quantitative", "scale": {"domain": [0, 100], "nice": false}, "axis": {"values": [0,10,20,30,40,50,60,70,80,90,100], "title": "Progression-free survival (%)", "titlePadding": 8}}
  },
  "layer": [
   {"data": {"name": "curves"}, "transform": [{"filter": "datum.panel === 'A'"}],
    "mark": {"type": "line", "strokeWidth": 1.8},
    "encoding": {"color": {"field": "group", "type": "nominal", "scale": {"domain": ["Lenalidomide group", "Observation group"], "range": ["#1b2a8c", "#e3171c"]},
      "legend": {"title": null, "orient": "none", "legendX": 414, "legendY": 1, "symbolType": "M-1.5,0H1.5", "symbolSize": 256, "symbolStrokeWidth": 1.5, "labelFont": "Open Sans", "labelFontSize": 13, "labelColor": "#231f20", "labelOffset": 6, "rowPadding": 2, "padding": 0}}}},
   {"data": {"name": "censor"}, "transform": [{"filter": "datum.panel === 'A'"}],
    "mark": {"type": "point", "shape": "M-1,0H1M0,-1V1", "filled": false, "size": 34, "strokeWidth": 1.1, "opacity": 1},
    "encoding": {"color": {"field": "group", "type": "nominal", "scale": {"domain": ["Lenalidomide group", "Observation group"], "range": ["#1b2a8c", "#e3171c"]}, "legend": null}}}
  ]
 },
 {
  "width": 560, "height": 136,
  "data": {"name": "risk"},
  "transform": [{"filter": "datum.panel === 'A'"}],
  "encoding": {
   "x": {"field": "month", "type": "quantitative", "scale": {"domain": [0, 84], "nice": false}, "axis": null},
   "y": {"field": "row", "type": "nominal", "scale": {"type": "band", "domain": ["H1","H2","L1","L2","O1","O2"], "paddingInner": 0, "paddingOuter": 0.5417, "align": 0.3077},
    "axis": {"title": null, "domain": false, "ticks": false, "labelPadding": 23, "labelFontSize": {"condition": {"test": "datum.value === 'H1' || datum.value === 'H2'", "value": 12.5}, "value": 14}, "labelFontWeight": {"condition": {"test": "datum.value === 'H1' || datum.value === 'H2'", "value": "bold"}, "value": "normal"}, "labelColor": "#231f20", "labelExpr": "datum.value === 'H1' ? 'Number at risk' : datum.value === 'H2' ? '(number censored)' : datum.value === 'L1' ? 'Lenalidomide' : datum.value === 'O1' ? 'Observation' : 'group'"}},
   "text": {"field": "label", "type": "nominal"}
  },
  "layer": [
   {"transform": [{"filter": "datum.row === 'L1' || datum.row === 'O1'"}], "mark": {"type": "text", "align": "right", "dx": 17, "baseline": "middle", "fontSize": 14}},
   {"transform": [{"filter": "datum.row === 'L2' || datum.row === 'O2'"}], "mark": {"type": "text", "align": "center", "baseline": "middle", "fontSize": 14}}
  ]
 },
 {
  "width": 560, "height": 352,
  "title": {"text": "B", "anchor": "start", "frame": "group", "dx": -20, "fontSize": 17, "fontWeight": "bold", "font": "Open Sans", "color": "#231f20", "offset": 8},
  "encoding": {
   "x": {"field": "month", "type": "quantitative", "scale": {"domain": [0, 84], "nice": false}, "axis": {"values": [0,6,12,18,24,30,36,42,48,54,60,66,72,78,84], "title": "Time since randomisation (months)", "titlePadding": 14}},
   "y": {"field": "surv", "type": "quantitative", "scale": {"domain": [0, 100], "nice": false}, "axis": {"values": [0,10,20,30,40,50,60,70,80,90,100], "title": "Overall survival (%)", "titlePadding": 8}}
  },
  "layer": [
   {"data": {"name": "curves"}, "transform": [{"filter": "datum.panel === 'B'"}],
    "mark": {"type": "line", "strokeWidth": 1.8},
    "encoding": {"color": {"field": "group", "type": "nominal", "scale": {"domain": ["Lenalidomide group", "Observation group"], "range": ["#1b2a8c", "#e3171c"]}, "legend": null}}},
   {"data": {"name": "censor"}, "transform": [{"filter": "datum.panel === 'B'"}],
    "mark": {"type": "point", "shape": "M-1,0H1M0,-1V1", "filled": false, "size": 34, "strokeWidth": 1.1, "opacity": 1},
    "encoding": {"color": {"field": "group", "type": "nominal", "scale": {"domain": ["Lenalidomide group", "Observation group"], "range": ["#1b2a8c", "#e3171c"]}, "legend": null}}}
  ]
 },
 {
  "width": 560, "height": 136,
  "data": {"name": "risk"},
  "transform": [{"filter": "datum.panel === 'B'"}],
  "encoding": {
   "x": {"field": "month", "type": "quantitative", "scale": {"domain": [0, 84], "nice": false}, "axis": null},
   "y": {"field": "row", "type": "nominal", "scale": {"type": "band", "domain": ["H1","H2","L1","L2","O1","O2"], "paddingInner": 0, "paddingOuter": 0.5417, "align": 0.3077},
    "axis": {"title": null, "domain": false, "ticks": false, "labelPadding": 23, "labelFontSize": {"condition": {"test": "datum.value === 'H1' || datum.value === 'H2'", "value": 12.5}, "value": 14}, "labelFontWeight": {"condition": {"test": "datum.value === 'H1' || datum.value === 'H2'", "value": "bold"}, "value": "normal"}, "labelColor": "#231f20", "labelExpr": "datum.value === 'H1' ? 'Number at risk' : datum.value === 'H2' ? '(number censored)' : datum.value === 'L1' ? 'Lenalidomide' : datum.value === 'O1' ? 'Observation' : 'group'"}},
   "text": {"field": "label", "type": "nominal"}
  },
  "layer": [
   {"transform": [{"filter": "datum.row === 'L1' || datum.row === 'O1'"}], "mark": {"type": "text", "align": "right", "dx": 17, "baseline": "middle", "fontSize": 14}},
   {"transform": [{"filter": "datum.row === 'L2' || datum.row === 'O2'"}], "mark": {"type": "text", "align": "center", "baseline": "middle", "fontSize": 14}}
  ]
 }
]
}
